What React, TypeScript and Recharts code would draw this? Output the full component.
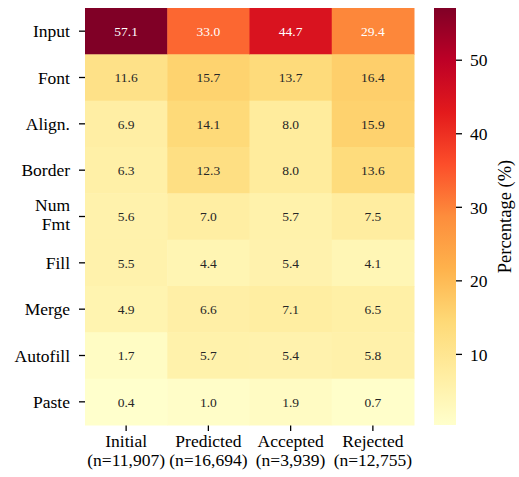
import { ScatterChart, Scatter, XAxis, YAxis, BarChart, Bar } from "recharts";

const rows = ["Input", "Font", "Align.", "Border", "Num Fmt", "Fill", "Merge", "Autofill", "Paste"];
const columns = ["Initial", "Predicted", "Accepted", "Rejected"];
const sampleSizes = ["(n=11,907)", "(n=16,694)", "(n=3,939)", "(n=12,755)"];

const initialValues = [57.1, 11.6, 6.9, 6.3, 5.6, 5.5, 4.9, 1.7, 0.4];
const predictedValues = [33.0, 15.7, 14.1, 12.3, 7.0, 4.4, 6.6, 5.7, 1.0];
const acceptedValues = [44.7, 13.7, 8.0, 8.0, 5.7, 5.4, 7.1, 5.4, 1.9];
const rejectedValues = [29.4, 16.4, 15.9, 13.6, 7.5, 4.1, 6.5, 5.8, 0.7];

const colorbarTicks = [10, 20, 30, 40, 50];
const vMin = 0.4;
const vMax = 57.1;

// YlOrRd
const palette = ["#ffffcc", "#ffeda0", "#fed976", "#feb24c", "#fd8d3c", "#fc4e2a", "#e31a1c", "#bd0026", "#800026"];

const FONT = "'Liberation Serif', 'Times New Roman', serif";

const hexToRgb = (h: string) => [1, 3, 5].map((i) => parseInt(h.slice(i, i + 2), 16));

function colorFor(v: number) {
  const t = Math.min(1, Math.max(0, (v - vMin) / (vMax - vMin))) * (palette.length - 1);
  const i = Math.min(palette.length - 2, Math.floor(t));
  const f = t - i;
  const a = hexToRgb(palette[i]);
  const b = hexToRgb(palette[i + 1]);
  const c = a.map((x, k) => Math.round(x + (b[k] - x) * f));
  return `rgb(${c[0]},${c[1]},${c[2]})`;
}

const series = [initialValues, predictedValues, acceptedValues, rejectedValues];
const cells = series.flatMap((vals, c) => vals.map((value, r) => ({ x: c, y: r, value })));
const colorbarData = [{ name: "scale", range: [vMin, vMax] }];

// layout
const W = 420;
const H = 477;
const M = { top: 8, right: 6, bottom: 0, left: 0 };
const Y_W = 85;
const X_H = 52;
const cellW = (W - M.left - M.right - Y_W) / columns.length;
const cellH = (H - M.top - M.bottom - X_H) / rows.length;

const HeatCell = (props: any) => {
  const { cx, cy, payload } = props;
  const v = payload.value;
  return (
    <g>
      <rect
        x={cx - cellW / 2}
        y={cy - cellH / 2}
        width={cellW + 0.5}
        height={cellH + 0.5}
        fill={colorFor(v)}
      />
      <text
        x={cx}
        y={cy}
        dy="0.35em"
        textAnchor="middle"
        fontFamily={FONT}
        fontSize={13.5}
        fill={v > 25 ? "#ffffff" : "#262626"}
      >
        {v.toFixed(1)}
      </text>
    </g>
  );
};

const RowTick = (props: any) => {
  const { x, y, payload } = props;
  const parts = rows[payload.value].split(" ");
  const lh = 19;
  return (
    <text x={x - 7} y={y} textAnchor="end" fontFamily={FONT} fontSize={17.5} fill="#000">
      {parts.map((p, i) => (
        <tspan key={i} x={x - 7} dy={i === 0 ? (parts.length > 1 ? -6 : 6) : lh}>
          {p}
        </tspan>
      ))}
    </text>
  );
};

const ColTick = (props: any) => {
  const { x, y, payload } = props;
  return (
    <text textAnchor="middle" fontFamily={FONT} fontSize={17.5} fill="#000">
      <tspan x={x} y={y + 14}>{columns[payload.value]}</tspan>
      <tspan x={x} y={y + 33}>{sampleSizes[payload.value]}</tspan>
    </text>
  );
};

const BarLabel = (props: any) => {
  const { viewBox } = props;
  const cx = viewBox.x + 49;
  const cy = viewBox.y + viewBox.height / 2;
  return (
    <text
      x={cx}
      y={cy}
      dy="0.35em"
      textAnchor="middle"
      transform={`rotate(-90, ${cx}, ${cy})`}
      fontFamily={FONT}
      fontSize={18.5}
      fill="#000"
    >
      Percentage (%)
    </text>
  );
};

export default function App() {
  return (
    <div style={{ position: "absolute", left: 0, top: 0, width: 519, height: 477, background: "#fff" }}>
      <div style={{ position: "absolute", left: 0, top: 0 }}>
        <ScatterChart width={W} height={H} margin={M}>
          <XAxis
            type="number"
            dataKey="x"
            domain={[-0.5, 3.5]}
            ticks={[0, 1, 2, 3]}
            interval={0}
            height={X_H}
            axisLine={false}
            tickSize={6}
            tickLine={{ stroke: "#000", strokeWidth: 1.3 }}
            tick={<ColTick />}
          />
          <YAxis
            type="number"
            dataKey="y"
            domain={[-0.5, 8.5]}
            ticks={[0, 1, 2, 3, 4, 5, 6, 7, 8]}
            interval={0}
            reversed
            width={Y_W}
            axisLine={false}
            tickSize={6}
            tickLine={{ stroke: "#000", strokeWidth: 1.3 }}
            tick={<RowTick />}
          />
          <Scatter data={cells} shape={<HeatCell />} isAnimationActive={false} />
        </ScatterChart>
      </div>
      <div style={{ position: "absolute", left: 420, top: 0 }}>
        <BarChart
          width={99}
          height={H}
          data={colorbarData}
          barCategoryGap={0}
          margin={{ top: 8, right: 0, bottom: 52, left: 14 }}
        >
          <defs>
            <linearGradient id="ylorrd" x1="0" y1="1" x2="0" y2="0">
              {palette.map((c, i) => (
                <stop key={c} offset={i / (palette.length - 1)} stopColor={c} />
              ))}
            </linearGradient>
          </defs>
          <XAxis type="category" dataKey="name" hide />
          <YAxis
            orientation="right"
            type="number"
            domain={[vMin, vMax]}
            allowDataOverflow
            ticks={colorbarTicks}
            interval={0}
            width={63}
            axisLine={false}
            tickSize={6}
            tickMargin={8}
            tickLine={{ stroke: "#000", strokeWidth: 1.3 }}
            tick={{ fontFamily: FONT, fontSize: 17.5, fill: "#000", textAnchor: "start" }}
            label={<BarLabel />}
          />
          <Bar dataKey="range" fill="url(#ylorrd)" isAnimationActive={false} />
        </BarChart>
      </div>
    </div>
  );
}
